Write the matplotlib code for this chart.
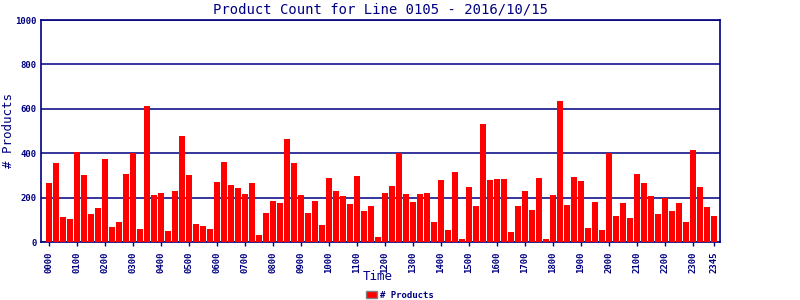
import matplotlib
matplotlib.use('Agg')
import matplotlib.pyplot as plt
import numpy as np

# product counts every 15 minutes, 0000 .. 2345
counts = [267, 357, 111, 105, 406, 303, 127, 154, 375, 69, 91, 307,
          402, 60, 613, 213, 222, 51, 231, 478, 303, 82, 73, 60,
          271, 361, 258, 244, 217, 267, 33, 132, 186, 177, 465, 357,
          213, 132, 186, 78, 290, 231, 209, 173, 299, 141, 164, 24,
          222, 254, 400, 218, 182, 218, 222, 92, 281, 56, 317, 15,
          249, 164, 533, 281, 285, 285, 47, 164, 231, 146, 290, 15,
          213, 636, 168, 294, 276, 65, 182, 56, 400, 119, 177, 110,
          308, 267, 209, 128, 200, 141, 177, 92, 416, 249, 159, 119]
times = ['%02d%02d' % (h, m) for h in range(24) for m in (0, 15, 30, 45)]
tick_idx = list(range(0, 96, 4)) + [95]
tick_labels = [times[i] for i in tick_idx]

navy = '#000080'
mono = 'DejaVu Sans Mono'

fig = plt.figure(figsize=(8, 3), dpi=100)
ax = fig.add_axes([0.05125, 0.1933, 0.84875, 0.74])

x = np.arange(len(counts))
ax.bar(x, counts, width=0.86, color='#ff0000', label='# Products', zorder=3)

ax.set_xlim(-1.14, 95.86)
ax.set_ylim(0, 1000)
ax.set_yticks([0, 200, 400, 600, 800, 1000])
ax.set_yticklabels(['0', '200', '400', '600', '800', '1000'],
                   fontsize=6.5, fontfamily=mono, color=navy, fontweight='bold')
ax.set_xticks(tick_idx)
ax.set_xticklabels(tick_labels, rotation=90, fontsize=6.5, fontfamily=mono,
                   color=navy, fontweight='bold')
ax.tick_params(axis='both', colors=navy, length=3, width=1)
ax.tick_params(axis='y', length=0, pad=3)

ax.grid(axis='y', color=navy, linewidth=1.1, zorder=1)
for s in ax.spines.values():
    s.set_color(navy)
    s.set_linewidth(1.2)

ax.set_title('Product Count for Line 0105 - 2016/10/15', fontsize=10,
             fontfamily=mono, color=navy, pad=5)
fig.text(378 / 800, 1 - 277 / 300, 'Time', fontsize=9, fontfamily=mono,
         color=navy, ha='center', va='center')
fig.text(9 / 800, 1 - 130 / 300, '# Products', fontsize=9, fontfamily=mono,
         color=navy, ha='center', va='center', rotation=90)

leg = fig.legend(loc='center', bbox_to_anchor=(0.5, 1 - 295 / 300), frameon=False,
                 prop={'family': mono, 'size': 6.5, 'weight': 'bold'},
                 handlelength=1.2, handleheight=0.9, handletextpad=0.4,
                 borderpad=0)
for t in leg.get_texts():
    t.set_color(navy)
for p in leg.get_patches():
    p.set_edgecolor('#808080')

fig.savefig('out.png', dpi=100)
